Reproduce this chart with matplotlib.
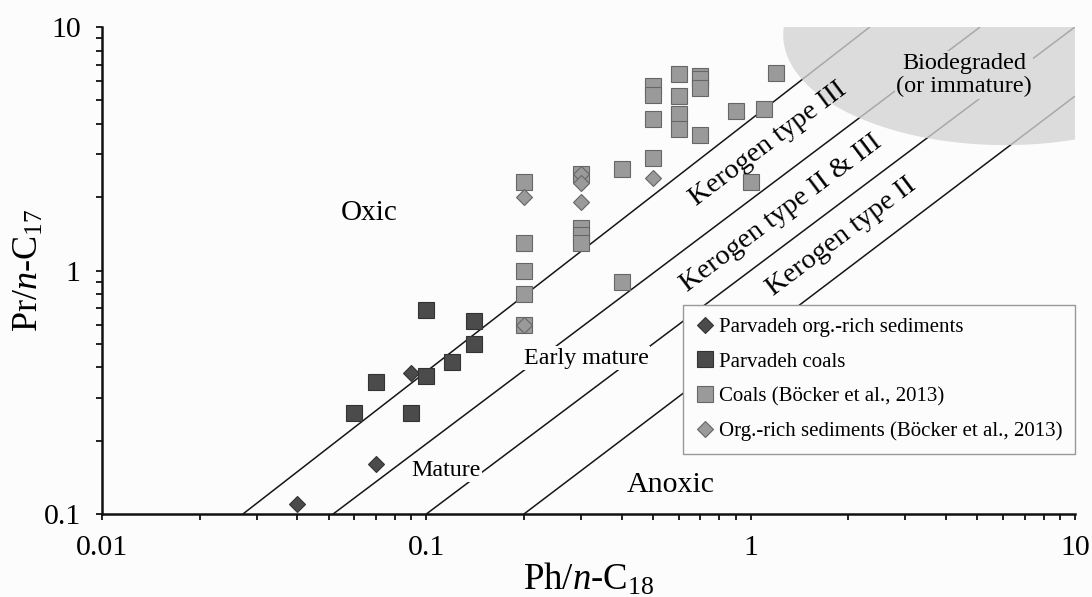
import numpy as np
import matplotlib
matplotlib.use('Agg')
import matplotlib.pyplot as plt
from matplotlib.ticker import LogLocator, NullFormatter

# Times-like serif for everything, italic n in the axis labels
plt.rcParams['font.family'] = ['Liberation Serif', 'DejaVu Serif']
plt.rcParams['mathtext.fontset'] = 'custom'
plt.rcParams['mathtext.rm'] = 'Liberation Serif'
plt.rcParams['mathtext.it'] = 'Liberation Serif:italic'

# Parvadeh org.-rich sediments (dark diamonds)
sed_ph = [0.04, 0.07, 0.09]
sed_pr = [0.11, 0.16, 0.38]

# Parvadeh coals (dark squares)
coal_ph = [0.06, 0.07, 0.09, 0.10, 0.10, 0.12, 0.14, 0.14]
coal_pr = [0.26, 0.35, 0.26, 0.69, 0.37, 0.42, 0.62, 0.50]

# Coals (Böcker et al., 2013) (light squares)
bcoal_ph = [0.2, 0.2, 0.2, 0.2, 0.2, 0.3, 0.3, 0.3, 0.3, 0.4, 0.4,
            0.5, 0.5, 0.5, 0.5, 0.6, 0.6, 0.6, 0.6, 0.7, 0.7, 0.7, 0.7,
            0.9, 1.0, 1.1, 1.2]
bcoal_pr = [2.3, 1.3, 1.0, 0.8, 0.6, 2.5, 1.5, 1.4, 1.3, 2.6, 0.9,
            5.7, 5.25, 4.2, 2.9, 6.4, 5.2, 4.4, 3.8, 6.3, 6.1, 5.6, 3.6,
            4.5, 2.3, 4.6, 6.5]

# Org.-rich sediments (Böcker et al., 2013) (light diamonds)
bsed_ph = [0.2, 0.2, 0.3, 0.3, 0.3, 0.5]
bsed_pr = [2.0, 0.6, 2.5, 2.28, 1.92, 2.4]

# boundary lines (start and end points)
line_x0 = [0.0272, 0.0516, 0.1, 0.2]
line_y0 = [0.1, 0.1, 0.1, 0.1]
line_x1 = [2.33, 5.1, 10.0, 10.0]
line_y1 = [10.0, 10.0, 10.0, 5.2]

# biodegraded region, ellipse in log10 units (centre and radii)
ell_cx, ell_cy = 0.785, 0.967
ell_rx, ell_ry = 0.6845, 0.452

bg = '#fcfcfc'
fig = plt.figure(figsize=(10.92, 5.97), dpi=100, facecolor=bg)
ax = fig.add_axes([0.0934, 0.139, 0.891, 0.8158], facecolor=bg)
ax.set_xscale('log')
ax.set_yscale('log')
ax.set_xlim(0.01, 10)
ax.set_ylim(0.1, 10)

for i in range(len(line_x0)):
    ax.plot([line_x0[i], line_x1[i]], [line_y0[i], line_y1[i]],
            color='#151515', lw=1.1, zorder=1, solid_capstyle='butt')

t = np.linspace(0, 2 * np.pi, 400)
ax.fill(10 ** (ell_cx + ell_rx * np.cos(t)), 10 ** (ell_cy + ell_ry * np.sin(t)),
        color='#d3d3d3', alpha=0.78, lw=0, zorder=2)

# markers
dark_fc, dark_ec = '#4b4b4b', '#333333'
light_fc, light_ec = '#9a9a9a', '#666666'
ax.plot(sed_ph, sed_pr, 'D', ms=8.0, mfc=dark_fc, mec=dark_ec, mew=0.8,
        ls='none', zorder=4, label='Parvadeh org.-rich sediments')
ax.plot(coal_ph, coal_pr, 's', ms=11.5, mfc=dark_fc, mec=dark_ec, mew=0.8,
        ls='none', zorder=4, label='Parvadeh coals')
ax.plot(bcoal_ph, bcoal_pr, 's', ms=11.5, mfc=light_fc, mec=light_ec, mew=0.8,
        ls='none', zorder=4, label='Coals (Böcker et al., 2013)')
ax.plot(bsed_ph, bsed_pr, 'D', ms=8.0, mfc=light_fc, mec=light_ec, mew=0.8,
        ls='none', zorder=4, label='Org.-rich sediments (Böcker et al., 2013)')

# region labels
ax.text(0.0666, 1.72, 'Oxic', fontsize=21, ha='center', va='center', zorder=3)
ax.text(0.568, 0.1315, 'Anoxic', fontsize=21.5, ha='center', va='center', zorder=3)
ax.text(0.311, 0.437, 'Early mature', fontsize=17.3, ha='center', va='center', zorder=3,
        bbox=dict(facecolor=bg, edgecolor='none', pad=1))
ax.text(0.115, 0.1516, 'Mature', fontsize=17.3, ha='center', va='center', zorder=3,
        bbox=dict(facecolor=bg, edgecolor='none', pad=1))
ax.text(1.13, 3.3, 'Kerogen type III', fontsize=20.5, rotation=37,
        ha='center', va='center', rotation_mode='anchor', zorder=3)
ax.text(1.24, 1.72, 'Kerogen type II & III', fontsize=20.5, rotation=37,
        ha='center', va='center', rotation_mode='anchor', zorder=3)
ax.text(1.91, 1.37, 'Kerogen type II', fontsize=20.5, rotation=37,
        ha='center', va='center', rotation_mode='anchor', zorder=3)
ax.text(4.55, 6.35, 'Biodegraded\n(or immature)', fontsize=17.5, ha='center',
        va='center', linespacing=1.15, zorder=3,
        bbox=dict(facecolor='#dcdcdc', edgecolor='none', pad=1))

leg = ax.legend(loc='upper left', bbox_to_anchor=(0.597, 0.429), fontsize=15.0,
                frameon=True, fancybox=False, edgecolor='#999999', framealpha=1,
                facecolor=bg, handletextpad=0.25, handlelength=0.9,
                labelspacing=0.72, borderpad=0.6, borderaxespad=0)
leg.get_frame().set_linewidth(1.0)
leg.set_zorder(5)

# axes styling
for side in ['top', 'right']:
    ax.spines[side].set_visible(False)
for side in ['left', 'bottom']:
    ax.spines[side].set_linewidth(1.8)
    ax.spines[side].set_color('#111111')

ax.set_xticks([0.01, 0.1, 1, 10])
ax.set_xticklabels(['0.01', '0.1', '1', '10'])
ax.set_yticks([0.1, 1, 10])
ax.set_yticklabels(['0.1', '1', '10'])
ax.xaxis.set_minor_locator(LogLocator(base=10, subs=np.arange(2, 10)))
ax.yaxis.set_minor_locator(LogLocator(base=10, subs=np.arange(2, 10)))
ax.xaxis.set_minor_formatter(NullFormatter())
ax.yaxis.set_minor_formatter(NullFormatter())
ax.tick_params(which='both', direction='out', length=4.3, width=1.3,
               color='#111111', labelsize=21.5, pad=11)

ax.set_xlabel(r'Ph/$\mathit{n}$-C$_\mathrm{18}$', fontsize=26.5, labelpad=0)
ax.set_ylabel(r'Pr/$\mathit{n}$-C$_\mathrm{17}$', fontsize=26)
ax.yaxis.set_label_coords(-0.058, 0.5)

fig.savefig('out.png', dpi=100, facecolor=bg)
